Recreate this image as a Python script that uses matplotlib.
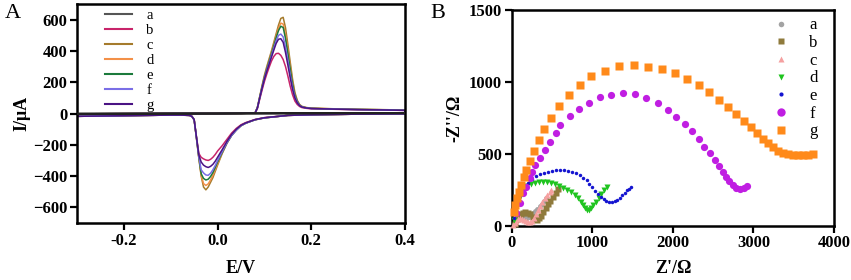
import matplotlib
matplotlib.use("Agg")
import matplotlib.pyplot as plt
from matplotlib.lines import Line2D
from matplotlib.font_manager import FontProperties

plt.rcParams['font.family'] = ['Liberation Serif', 'DejaVu Serif']

# ---------------- Panel A: CV data ----------------
labels = ['a', 'b', 'c', 'd', 'e', 'f', 'g']
cv_colors = ['#555555', '#c8246a', '#a57b2c', '#f39048', '#1b7a3c', '#7a6ee6', '#4a1384']

E_fwd = [-0.30, -0.20, -0.10, 0.00, 0.05, 0.08, 0.085, 0.09, 0.095, 0.10, 0.105, 0.11, 0.115,
         0.12, 0.125, 0.13, 0.135, 0.14, 0.145, 0.15, 0.155, 0.16, 0.165, 0.17, 0.175, 0.18,
         0.19, 0.20, 0.25, 0.30, 0.35, 0.40]
E_rev = [0.40, 0.35, 0.30, 0.25, 0.20, 0.15, 0.10, 0.08, 0.06, 0.05, 0.04, 0.03, 0.02, 0.01,
         0.00, -0.005, -0.01, -0.015, -0.02, -0.025, -0.03, -0.035, -0.04, -0.045, -0.05,
         -0.055, -0.06, -0.08, -0.10, -0.15, -0.20, -0.25, -0.30]

E_a = [-0.30, 0.00, 0.40, 0.00, -0.30]
I_a = [0, 0, 2, 0, -2]

I_fwd_b = [-2, -1, 0, 0, 1, 3, 32, 92, 150, 205, 252, 295, 335, 365, 383, 385, 372, 345, 300, 240,
           175, 120, 80, 58, 45, 38, 33, 30, 27, 24, 22, 20]
I_fwd_c = [-2, -1, 0, 0, 1, 3, 40, 110, 180, 245, 300, 350, 400, 455, 510, 565, 608, 615, 548, 442,
           330, 220, 135, 85, 58, 46, 38, 35, 30, 27, 25, 22]
I_fwd_d = [-2, -1, 0, 0, 1, 3, 38, 105, 172, 235, 290, 338, 388, 440, 495, 545, 578, 572, 505, 405,
           300, 200, 125, 80, 55, 44, 37, 34, 29, 26, 24, 21]
I_fwd_e = [-2, -1, 0, 0, 1, 3, 38, 105, 170, 232, 285, 333, 382, 432, 485, 530, 558, 550, 480, 385,
           285, 190, 120, 78, 54, 43, 36, 33, 28, 26, 24, 21]
I_fwd_f = [-2, -1, 0, 0, 1, 3, 36, 102, 165, 225, 277, 323, 370, 418, 465, 500, 508, 490, 425, 340,
           250, 168, 108, 72, 52, 42, 35, 32, 28, 25, 23, 20]
I_fwd_g = [-2, -1, 0, 0, 1, 3, 35, 100, 162, 220, 270, 315, 360, 405, 448, 475, 478, 455, 390, 310,
           228, 155, 100, 68, 50, 41, 35, 32, 28, 25, 23, 20]

I_rev_b = [-2, -3, -4, -6, -8, -12, -26, -38, -58, -72, -95, -125, -165, -205, -240, -262, -280,
           -293, -300, -297, -290, -280, -255, -150, -38, -17, -12, -10, -10, -12, -14, -16, -18]
I_rev_c = [-2, -3, -4, -6, -8, -12, -28, -40, -62, -78, -105, -140, -190, -255, -330, -370, -410,
           -440, -470, -488, -470, -400, -285, -160, -40, -18, -12, -10, -10, -12, -14, -16, -18]
I_rev_d = [-2, -3, -4, -6, -8, -12, -28, -40, -61, -77, -104, -138, -187, -250, -320, -358, -395,
           -425, -450, -460, -448, -395, -283, -158, -40, -18, -12, -10, -10, -12, -14, -16, -18]
I_rev_e = [-2, -3, -4, -6, -8, -12, -28, -40, -62, -78, -106, -140, -188, -248, -310, -345, -378,
           -403, -420, -425, -415, -385, -280, -158, -40, -18, -12, -10, -10, -12, -14, -16, -18]
I_rev_f = [-2, -3, -4, -6, -8, -12, -28, -40, -62, -78, -106, -140, -186, -243, -300, -332, -360,
           -382, -395, -393, -380, -360, -275, -155, -40, -18, -12, -10, -10, -12, -14, -16, -18]
I_rev_g = [-2, -3, -4, -6, -8, -12, -27, -39, -60, -75, -100, -133, -178, -230, -280, -305, -325,
           -338, -345, -340, -330, -310, -265, -152, -39, -18, -12, -10, -10, -12, -14, -16, -18]

cv_fwd = [None, I_fwd_b, I_fwd_c, I_fwd_d, I_fwd_e, I_fwd_f, I_fwd_g]
cv_rev = [None, I_rev_b, I_rev_c, I_rev_d, I_rev_e, I_rev_f, I_rev_g]

# ---------------- Panel B: EIS data ----------------
eis_a_x = [30, 50, 70, 95, 120, 145, 170, 195, 220, 245, 270, 295, 320, 345, 370, 395, 420]
eis_a_y = [10, 35, 55, 68, 72, 70, 62, 55, 58, 70, 85, 100, 118, 135, 152, 170, 190]
eis_b_x = [40, 60, 85, 110, 140, 170, 200, 230, 260, 285, 310, 335, 360, 390, 420, 450, 480, 510, 545, 575]
eis_b_y = [15, 45, 68, 82, 90, 92, 88, 78, 62, 48, 42, 50, 70, 95, 125, 150, 175, 200, 225, 255]
eis_c_x = [20, 35, 55, 80, 105, 130, 155, 180, 205, 230, 255, 280, 305, 330, 355, 380, 410, 440, 470, 490]
eis_c_y = [5, 20, 35, 45, 50, 48, 42, 32, 25, 24, 30, 50, 80, 110, 140, 165, 190, 215, 235, 245]
eis_d_x = [30, 45, 65, 90, 120, 155, 195, 240, 290, 340, 390, 440, 490, 540, 590, 640, 690, 740,
           790, 825, 855, 880, 905, 930, 955, 985, 1015, 1050, 1080, 1112, 1145, 1180]
eis_d_y = [40, 90, 140, 185, 222, 252, 274, 290, 300, 305, 306, 304, 299, 290, 277, 262, 248, 235,
           215, 192, 168, 145, 125, 110, 112, 125, 145, 168, 195, 218, 245, 270]
eis_e_x = [30, 45, 65, 90, 120, 160, 200, 250, 300, 350, 400, 450, 500, 550, 600, 650, 700, 750,
           800, 850, 890, 930, 965, 1000, 1035, 1070, 1105, 1140, 1175, 1210, 1245, 1280, 1310,
           1340, 1370, 1400, 1430, 1455, 1480]
eis_e_y = [50, 100, 150, 200, 240, 275, 300, 325, 343, 357, 368, 376, 382, 386, 387, 385, 381, 374,
           364, 350, 335, 315, 293, 268, 243, 218, 197, 183, 173, 168, 166, 170, 180, 195, 212, 228,
           245, 258, 270]
eis_f_x = [57, 97, 140, 181, 223, 252, 293, 347, 409, 471, 546, 596, 720, 835, 959, 1092, 1236, 1385,
           1526, 1670, 1815, 1935, 2045, 2150, 2241, 2324, 2390, 2460, 2523, 2572, 2618, 2659, 2700,
           2742, 2783, 2833, 2882, 2923]
eis_f_y = [86, 156, 225, 271, 330, 376, 422, 473, 526, 580, 642, 700, 763, 809, 855, 897, 911, 920,
           914, 886, 851, 803, 754, 707, 658, 601, 549, 503, 457, 415, 375, 341, 313, 285, 264, 255,
           260, 278]
eis_g_x = [29, 45, 70, 91, 119, 149, 181, 223, 277, 335, 401, 492, 587, 711, 843, 988, 1162, 1331,
           1513, 1691, 1863, 2028, 2179, 2320, 2452, 2576, 2687, 2783, 2882, 2965, 3047, 3122, 3184,
           3246, 3308, 3370, 3432, 3494, 3556, 3618, 3680, 3742]
eis_g_y = [97, 144, 190, 237, 283, 336, 387, 452, 519, 596, 670, 747, 832, 909, 978, 1041, 1078, 1111,
           1120, 1106, 1087, 1060, 1018, 976, 928, 874, 825, 777, 728, 684, 643, 603, 573, 545, 522,
           508, 496, 492, 492, 492, 494, 496]

eis_x = [eis_a_x, eis_b_x, eis_c_x, eis_d_x, eis_e_x, eis_f_x, eis_g_x]
eis_y = [eis_a_y, eis_b_y, eis_c_y, eis_d_y, eis_e_y, eis_f_y, eis_g_y]
eis_colors = ['#a3a3a3', '#8f7a3c', '#f5a0a0', '#1fc41f', '#1414d0', '#c01ee2', '#ff8a1a']
eis_markers = ['o', 's', '^', 'v', 'o', 'o', 's']
eis_sizes = [3.5, 4.0, 4, 4.5, 2.5, 5.2, 5.4]

# ---------------- Figure ----------------
fig = plt.figure(figsize=(8.51, 2.80), dpi=100)
axA = fig.add_axes([0.0905, 0.2036, 0.3854, 0.782])
axB = fig.add_axes([0.6013, 0.194, 0.3787, 0.770])

tick_fp = FontProperties(family='Liberation Serif', weight='bold', size=12)

# Panel A
for i in range(len(labels) - 1, -1, -1):
    if i == 0:
        axA.plot(E_a, I_a, color='#222222', lw=1.3, zorder=3)
    else:
        axA.plot(E_fwd + E_rev, cv_fwd[i] + cv_rev[i], color=cv_colors[i], lw=1.1, zorder=2 + i * 0.01)
axA.set_xlim(-0.3, 0.4)
axA.set_ylim(-700, 700)
axA.set_xticks([-0.2, 0.0, 0.2, 0.4])
axA.set_xticklabels(['-0.2', '0.0', '0.2', '0.4'])
axA.set_yticks([-600, -400, -200, 0, 200, 400, 600])
axA.set_xlabel('E/V', fontweight='bold', fontsize=13, labelpad=8)
axA.set_ylabel('I/μA', fontweight='bold', fontsize=13, labelpad=2)
handlesA = [Line2D([0], [0], color=c, lw=1.5) for c in cv_colors]
legA = axA.legend(handlesA, labels, loc='upper left', bbox_to_anchor=(0.055, 1.025), frameon=False,
                  fontsize=10.5, handlelength=1.8, handletextpad=1.0, labelspacing=0.12,
                  borderpad=0.2)

# Panel B
for i in range(len(labels)):
    axB.plot(eis_x[i], eis_y[i], linestyle='none', marker=eis_markers[i], ms=eis_sizes[i],
             color=eis_colors[i], mec='none', clip_on=False, zorder=3)
axB.set_xlim(0, 4000)
axB.set_ylim(0, 1500)
axB.set_xticks([0, 1000, 2000, 3000, 4000])
axB.set_yticks([0, 500, 1000, 1500])
axB.set_xlabel("Z'/Ω", fontweight='bold', fontsize=13, labelpad=6)
axB.set_ylabel("-Z''/Ω", fontweight='bold', fontsize=13, labelpad=4)
handlesB = [Line2D([0], [0], linestyle='none', marker=m, ms=s, color=c, mec='none')
            for m, s, c in zip(eis_markers, [4, 4.5, 4, 4.5, 3, 6, 6], eis_colors)]
legB = axB.legend(handlesB, labels, loc='upper right', bbox_to_anchor=(0.985, 1.02), frameon=False,
                  fontsize=12, handlelength=1.0, handletextpad=1.2, labelspacing=0.1,
                  borderpad=0.2)

for ax in (axA, axB):
    for sp in ax.spines.values():
        sp.set_linewidth(1.8)
    ax.tick_params(direction='out', length=5, width=1.6, pad=2)
    for lab in ax.get_xticklabels() + ax.get_yticklabels():
        lab.set_fontproperties(tick_fp)

fig.text(0.006, 0.985, 'A', fontsize=16, va='top', ha='left')
fig.text(0.506, 0.985, 'B', fontsize=16, va='top', ha='left')

fig.savefig('out.png', dpi=100)
